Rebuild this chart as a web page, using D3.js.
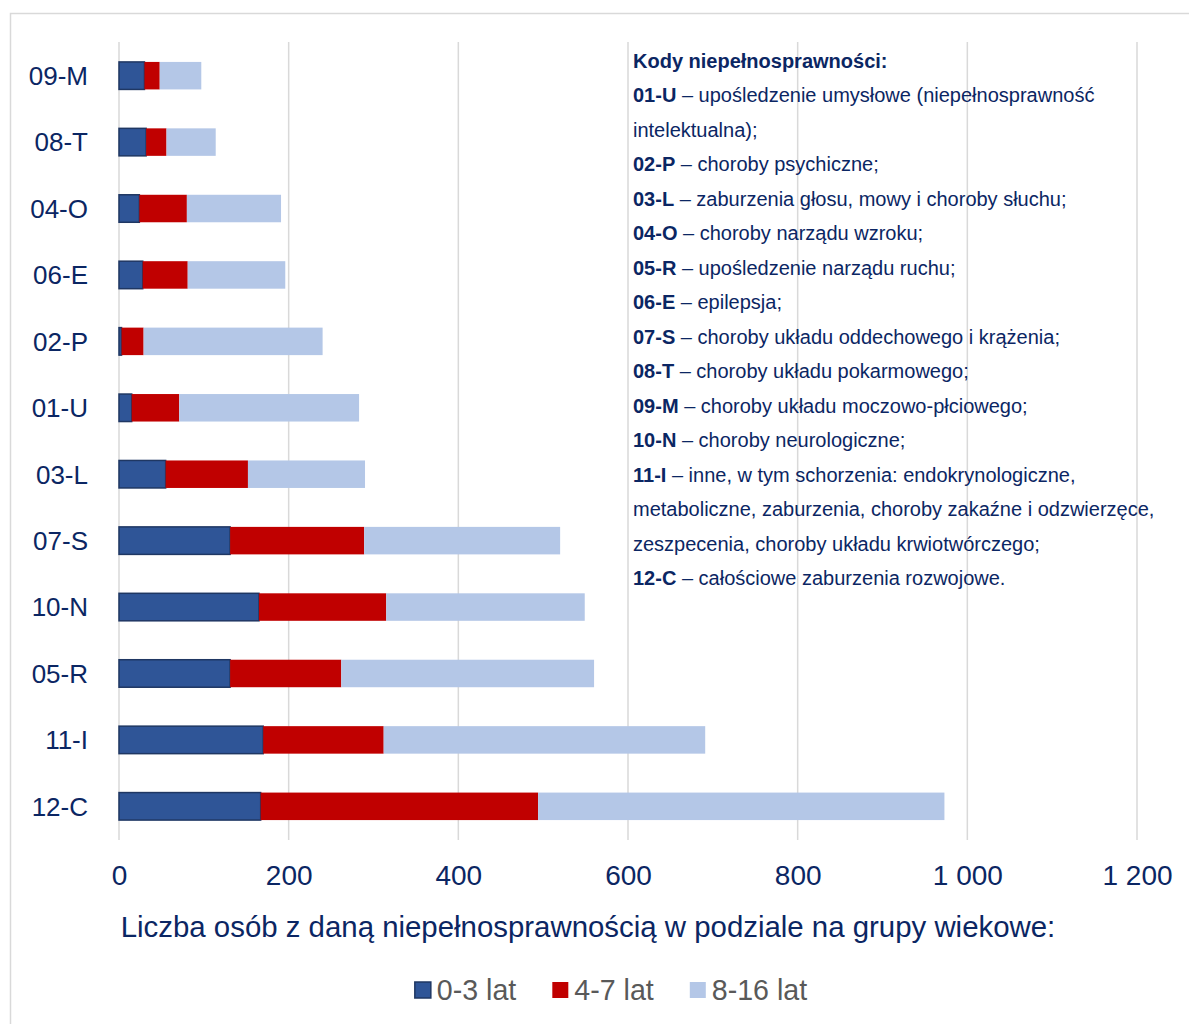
<!DOCTYPE html>
<html>
<head>
<meta charset="utf-8">
<script src="https://cdn.jsdelivr.net/npm/d3@7"></script>
<style>
    body { margin: 0; background: #fff; }
    svg { display: block; font-family: "Liberation Sans", Arial, sans-serif; }
</style>
</head>
<body>
<div id="chart"></div>
<script>
// categories, top to bottom
const categories = ['09-M', '08-T', '04-O', '06-E', '02-P', '01-U',
    '03-L', '07-S', '10-N', '05-R', '11-I', '12-C'];

// series values (number of persons)
const age0to3 = [30, 32, 24, 28, 3, 15, 55, 131, 165, 131, 170, 167];
const age4to7 = [18, 24, 56, 53, 26, 56, 97, 158, 150, 131, 142, 327];
const age8to16 = [49, 58, 111, 115, 211, 212, 138, 231, 234, 298, 379, 479];

const seriesNames = ['0-3 lat', '4-7 lat', '8-16 lat'];
const tickValues = [0, 200, 400, 600, 800, 1000, 1200];

const axisTitle = 'Liczba osób z daną niepełnosprawnością w podziale na grupy wiekowe:';

// legend of disability codes: [bold part, rest]; a line with empty bold part is a continuation
const codeLines = [
    ['Kody niepełnosprawności:', ''],
    ['01-U', ' – upośledzenie umysłowe (niepełnosprawność'],
    ['', 'intelektualna);'],
    ['02-P', ' – choroby psychiczne;'],
    ['03-L', ' – zaburzenia głosu, mowy i choroby słuchu;'],
    ['04-O', ' – choroby narządu wzroku;'],
    ['05-R', ' – upośledzenie narządu ruchu;'],
    ['06-E', ' – epilepsja;'],
    ['07-S', ' – choroby układu oddechowego i krążenia;'],
    ['08-T', ' – choroby układu pokarmowego;'],
    ['09-M', ' – choroby układu moczowo-płciowego;'],
    ['10-N', ' – choroby neurologiczne;'],
    ['11-I', ' – inne, w tym schorzenia: endokrynologiczne,'],
    ['', 'metaboliczne, zaburzenia, choroby zakaźne i odzwierzęce,'],
    ['', 'zeszpecenia, choroby układu krwiotwórczego;'],
    ['12-C', ' – całościowe zaburzenia rozwojowe.']
];

const config = {
    width: 1189,
    height: 1024,
    plot: { left: 119, right: 1137, top: 42, bottom: 840 },
    colors: ['#2F5597', '#C00000', '#B4C7E7'],
    textColor: '#0b2663',
    legendColor: '#595959',
    gridColor: '#d9d9d9'
};

const data = categories.map((c, i) => ({
    code: c,
    [seriesNames[0]]: age0to3[i],
    [seriesNames[1]]: age4to7[i],
    [seriesNames[2]]: age8to16[i]
}));

const stacked = d3.stack().keys(seriesNames)(data);

const x = d3.scaleLinear()
    .domain([0, 1200])
    .range([config.plot.left, config.plot.right]);

const y = d3.scaleBand()
    .domain(categories)
    .range([config.plot.top, config.plot.bottom])
    .paddingInner(0.586)
    .paddingOuter(0.3);

const color = d3.scaleOrdinal().domain(seriesNames).range(config.colors);

const pl = d3.formatLocale({ decimal: ',', thousands: '\u00a0', grouping: [3], currency: ['', ' zł'] });
const fmt = pl.format(',');

const svg = d3.select('#chart').append('svg')
    .attr('width', config.width)
    .attr('height', config.height);

// chart frame
svg.append('rect')
    .attr('x', 10.5).attr('y', 13.5)
    .attr('width', 1300).attr('height', 1100)
    .attr('fill', 'none')
    .attr('stroke', config.gridColor)
    .attr('stroke-width', 1.5);

// grid lines
svg.append('g')
    .selectAll('line')
    .data(tickValues)
    .join('line')
        .attr('x1', d => x(d)).attr('x2', d => x(d))
        .attr('y1', config.plot.top).attr('y2', config.plot.bottom)
        .attr('stroke', config.gridColor)
        .attr('stroke-width', 1.5);

// code descriptions
const codes = svg.append('g')
    .attr('font-size', 20)
    .attr('fill', config.textColor);

codes.selectAll('text')
    .data(codeLines)
    .join('text')
        .attr('x', 633)
        .attr('y', (d, i) => 68 + i * 34.47)
        .each(function (d) {
            const t = d3.select(this);
            if (d[0]) t.append('tspan').attr('font-weight', 'bold').text(d[0]);
            if (d[1]) t.append('tspan').text(d[1]);
        });

// stacked bars
svg.append('g')
    .selectAll('g')
    .data(stacked)
    .join('g')
        .attr('fill', d => color(d.key))
    .selectAll('rect')
    .data(d => d.map(v => Object.assign(v, { key: d.key })))
    .join('rect')
        .attr('x', d => x(d[0]))
        .attr('y', d => y(d.data.code))
        .attr('width', d => x(d[1]) - x(d[0]))
        .attr('height', y.bandwidth())
        .attr('stroke', d => d.key === seriesNames[0] ? '#1f3763' : 'none')
        .attr('stroke-width', 1.5);

// category axis
const yAxis = svg.append('g')
    .attr('transform', 'translate(88,0)')
    .call(d3.axisLeft(y).tickSize(0).tickPadding(0));
yAxis.select('.domain').remove();
yAxis.selectAll('text')
    .attr('font-size', 26)
    .attr('font-family', '"Liberation Sans", Arial, sans-serif')
    .attr('fill', config.textColor)
    .attr('dy', '0.36em');

// value axis
const xAxis = svg.append('g')
    .attr('transform', 'translate(0,' + config.plot.bottom + ')')
    .call(d3.axisBottom(x).tickValues(tickValues).tickFormat(fmt).tickSize(0));
xAxis.select('.domain').remove();
xAxis.selectAll('text')
    .attr('font-size', 28)
    .attr('font-family', '"Liberation Sans", Arial, sans-serif')
    .attr('fill', config.textColor)
    .attr('dy', null)
    .attr('y', 45);

// axis title
svg.append('text')
    .attr('x', 588)
    .attr('y', 937)
    .attr('text-anchor', 'middle')
    .attr('font-size', 29.4)
    .attr('fill', config.textColor)
    .text(axisTitle);

// legend
const legend = svg.append('g')
    .attr('font-size', 28.6)
    .attr('fill', config.legendColor);

const items = legend.selectAll('g')
    .data(seriesNames)
    .join('g');
items.append('rect')
    .attr('y', 982)
    .attr('width', 16).attr('height', 16)
    .attr('fill', d => color(d))
    .attr('stroke', d => d === seriesNames[0] ? '#1f3763' : 'none')
    .attr('stroke-width', 1.5);
items.append('text')
    .attr('x', 22)
    .attr('y', 1000)
    .text(d => d);

// lay legend items out side by side, centred
let offset = 0;
const positions = [];
items.each(function () {
    positions.push(offset);
    offset += 22 + this.querySelector('text').getComputedTextLength() + 36;
});
const total = offset - 36;
const start = 611 - total / 2;
items.attr('transform', (d, i) => 'translate(' + (start + positions[i]) + ',0)');
</script>
</body>
</html>
